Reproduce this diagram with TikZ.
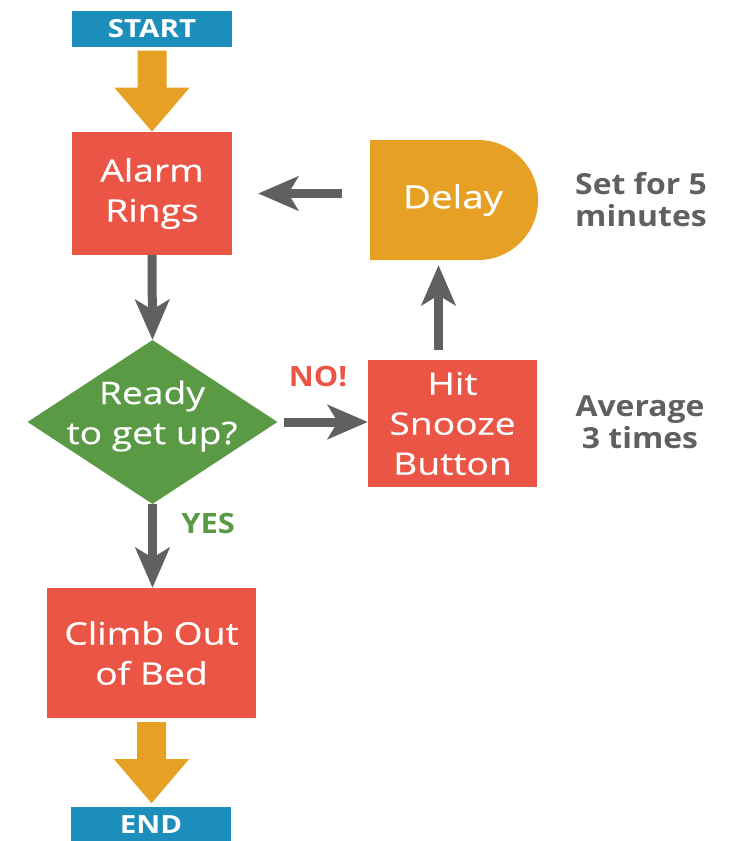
\documentclass[tikz,border=0pt]{standalone}
\usepackage{fontspec}
\setmainfont{Open Sans}
\newfontfamily\boxfont{Open Sans}[FakeStretch=1.2, FakeBold=0.4]
\newfontfamily\notefont{Open Sans}[FakeStretch=1.1]
\newfontfamily\termfont{Open Sans}[FakeStretch=1.18]
\usetikzlibrary{shapes.geometric,shapes.misc,arrows.meta,calc}
\definecolor{termblue}{HTML}{1B8EBB}
\definecolor{stepred}{HTML}{EA5545}
\definecolor{askgreen}{HTML}{5B9A45}
\definecolor{waitorange}{HTML}{E6A024}
\definecolor{linegray}{HTML}{606060}

\begin{document}
\begin{tikzpicture}[x=1pt,y=-1pt,
    term/.style={fill=termblue, text=white, font=\termfont\bfseries\fontsize{25}{25}\selectfont,
      minimum width=160pt, minimum height=36pt, inner sep=0pt},
    stepbox/.style={fill=stepred, text=white, font=\boxfont\fontsize{31}{40}\selectfont,
      align=center, inner sep=0pt},
    note/.style={text=linegray, font=\notefont\bfseries\fontsize{29}{32}\selectfont, align=center},
    flow/.style={draw=linegray, line width=9pt, -{Stealth[length=40pt,width=34pt,inset=10pt]}}]
  \useasboundingbox (0,0) rectangle (735,841);

  % Start and first step
  \node[term] (start) at (152,28.5) {START};
  \node[stepbox, minimum width=160pt, minimum height=123pt] (alarm) at (152,193.5) {Alarm\\Rings};

  % Decision
  \node[diamond, fill=askgreen, minimum width=250pt, minimum height=164pt, inner sep=0pt] (ready) at (152.5,422) {};
  \node[text=white, font=\boxfont\fontsize{31}{40}\selectfont, align=center] (readytext) at (152,416) {Ready\\to get up?};

  % Snooze loop
  \node[stepbox, minimum width=169pt, minimum height=127pt] (snooze) at (452.5,423.5) {Hit\\Snooze\\Button};
  \node[rounded rectangle, rounded rectangle left arc=none, fill=waitorange, text=white,
    font=\boxfont\fontsize{32}{40}\selectfont, minimum width=168pt, minimum height=120pt, inner sep=0pt] (delay) at (453,200) {Delay};

  % Getting up and end
  \node[stepbox, minimum width=209pt, minimum height=130pt] (climb) at (151.5,653) {Climb Out\\of Bed};
  \node[term] (end) at (151,825) {END};

  % Side notes and branch labels
  \node[note] (delaynote) at (641,200) {Set for 5\\minutes};
  \node[note] (snoozenote) at (640,422) {Average\\3 times};
  \node[text=stepred, font=\notefont\bfseries\fontsize{28}{28}\selectfont] (no) at (318,377) {NO!};
  \node[text=askgreen, font=\notefont\bfseries\fontsize{28}{28}\selectfont] (yes) at (208,523) {YES};

  % Thick orange arrows
  \foreach \a in {start,climb}
    \fill[waitorange] ($(\a.south)+(-14.5,4)$) -- ($(\a.south)+(14.5,4)$) -- ($(\a.south)+(14.5,41)$)
      -- ($(\a.south)+(37.5,41)$) -- ($(\a.south)+(0,85)$) -- ($(\a.south)+(-37.5,41)$)
      -- ($(\a.south)+(-14.5,41)$) -- cycle;

  % Grey connectors
  \draw[flow] (alarm.south) -- (ready.north);
  \draw[flow, shorten <=6pt] (ready.east) -- (ready.east -| snooze.west);
  \draw[flow, shorten <=10pt, shorten >=5pt] ([xshift=-14pt]snooze.north) -- ([xshift=-14pt]snooze.north |- delay.south);
  \draw[flow, shorten <=28pt, shorten >=26pt] (alarm.east -| delay.west) -- (alarm.east);
  \draw[flow] (ready.south) -- (ready.south |- climb.north);
\end{tikzpicture}
\end{document}
